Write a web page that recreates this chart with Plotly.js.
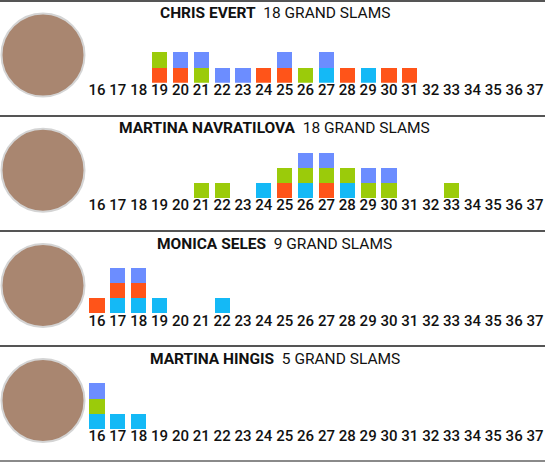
<!DOCTYPE html>
<html>
<head>
<meta charset="utf-8">
<script src="https://cdn.plot.ly/plotly-3.0.1.min.js"></script>
<style>html,body{margin:0;padding:0;background:#fff;}#chart{width:549px;height:463px;}</style>
</head>
<body>
<div id="chart"></div>
<script>
// ----- data -----
const ages = [16,17,18,19,20,21,22,23,24,25,26,27,28,29,30,31,32,33,34,35,36,37];
const tickLabels = ages.map(String);

const players = ["CHRIS EVERT", "MARTINA NAVRATILOVA", "MONICA SELES", "MARTINA HINGIS"];
const totals = [18, 18, 9, 5];

// ages at which each Grand Slam title was won (Australian, French, Wimbledon, US)
const evertAO = [27, 29];
const evertFO = [19, 20, 24, 25, 28, 30, 31];
const evertW  = [19, 21, 26];
const evertUS = [20, 21, 22, 23, 25, 27];

const navratilovaAO = [24, 26, 28];
const navratilovaFO = [25, 27];
const navratilovaW  = [21, 22, 25, 26, 27, 28, 29, 30, 33];
const navratilovaUS = [26, 27, 29, 30];

const selesAO = [17, 18, 19, 22];
const selesFO = [16, 17, 18];
const selesW  = [];
const selesUS = [17, 18];

const hingisAO = [16, 17, 18];
const hingisFO = [];
const hingisW  = [16];
const hingisUS = [16];

const slamNames = ["Australian Open", "French Open", "Wimbledon", "US Open"];
const slamColors = ["#14B9F6", "#FF5419", "#9BCB0A", "#6C8DFF"];

const wins = [
  [evertAO, evertFO, evertW, evertUS],
  [navratilovaAO, navratilovaFO, navratilovaW, navratilovaUS],
  [selesAO, selesFO, selesW, selesUS],
  [hingisAO, hingisFO, hingisW, hingisUS]
];

// ----- build -----
const W = 549, H = 463;
const traces = [];
const layout = {
  width: W, height: H,
  margin: {l: 0, r: 0, t: 0, b: 0},
  paper_bgcolor: "#fff", plot_bgcolor: "rgba(0,0,0,0)",
  barmode: "stack", bargap: 0,
  showlegend: false,
  font: {family: "Roboto, 'Open Sans', sans-serif", color: "#111"},
  shapes: [], annotations: []
};

const pxPerAge = 438 / 21;
const xMin = 16 - 97 / pxPerAge;
const xMax = xMin + W / pxPerAge;
const unitPx = 15.2;

players.forEach((name, p) => {
  const k = p + 1;
  const xa = k === 1 ? "x" : "x" + k;
  const ya = k === 1 ? "y" : "y" + k;
  const base = 82.7 + 115.4 * p;
  const top = base - 4 * unitPx;
  wins[p].forEach((list, s) => {
    traces.push({
      type: "bar",
      x: list, y: list.map(() => 1),
      width: 0.72,
      name: slamNames[s],
      marker: {color: slamColors[s], line: {width: 0}},
      xaxis: xa, yaxis: ya,
      hoverinfo: "skip"
    });
  });
  layout["xaxis" + (k === 1 ? "" : k)] = {
    domain: [0, 1], range: [xMin, xMax], anchor: ya,
    tickmode: "array", tickvals: ages, ticktext: tickLabels,
    ticks: "", showline: false, showgrid: false, zeroline: false,
    ticklabelstandoff: -4,
    tickfont: {size: 15, color: "#111", family: "Roboto, sans-serif", weight: 500},
    fixedrange: true
  };
  layout["yaxis" + (k === 1 ? "" : k)] = {
    domain: [1 - base / H, 1 - top / H], range: [0, 4], anchor: xa,
    visible: false, fixedrange: true
  };
  // title
  layout.annotations.push({
    xref: "paper", yref: "paper", x: 0.5, y: 1 - (12.8 + 115.4 * p) / H,
    xanchor: "center", yanchor: "middle", showarrow: false,
    text: "<b>" + name + "</b>  " + totals[p] + " GRAND SLAMS",
    font: {size: 15.5, color: "#111", family: "Roboto, sans-serif"}
  });
  // photo placeholder circle
  const cy = 55 + 115.2 * p;
  layout.shapes.push({
    type: "circle", xref: "paper", yref: "paper",
    x0: 1.5 / W, x1: 84.5 / W, y0: 1 - (cy + 41.5) / H, y1: 1 - (cy - 41.5) / H,
    fillcolor: "#a98670", line: {color: "#d4d4d4", width: 2}, layer: "below"
  });
});

// separator lines
[1, 116, 231, 346, 461].forEach((yp, i) => {
  layout.shapes.push({
    type: "line", xref: "paper", yref: "paper",
    x0: 0, x1: 545 / W, y0: 1 - yp / H, y1: 1 - yp / H,
    line: {color: i === 4 ? "#8a8a8a" : "#555", width: 2}
  });
});

Plotly.newPlot("chart", traces, layout, {displayModeBar: false, staticPlot: true});
</script>
</body>
</html>
